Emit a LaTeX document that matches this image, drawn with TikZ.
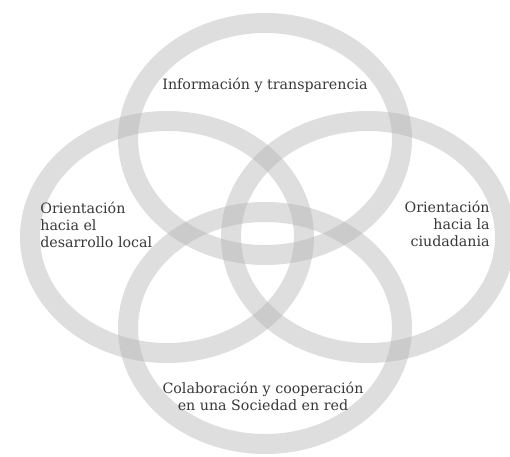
\documentclass[tikz,border=0pt]{standalone}
\usepackage{fontspec}
\setmainfont{DejaVu Serif}
\usepackage{xcolor}
\definecolor{ringgray}{gray}{0.70}
\definecolor{textgray}{gray}{0.22}

\begin{document}
\begin{tikzpicture}[
  x=0.02cm, y=-0.02cm,
  ring/.style={draw=ringgray, draw opacity=0.42, line width=0.4cm},
  label/.style={text=textgray, font=\fontsize{8.1}{9.7}\selectfont, inner sep=0pt}
]
  \useasboundingbox (0,0) rectangle (510,456);
  \clip (0,0) rectangle (510,456);
  \fill[white] (0,0) rectangle (510,456);
  % ring centres
  \coordinate (info) at (265,139);
  \coordinate (local) at (167,237);
  \coordinate (ciud) at (368,237);
  \coordinate (colab) at (265,328);
  \draw[ring] (info) ellipse [x radius=137, y radius=116];
  \draw[ring] (local) ellipse [x radius=137, y radius=116];
  \draw[ring] (ciud) ellipse [x radius=137, y radius=116];
  \draw[ring] (colab) ellipse [x radius=137, y radius=116];
  % texts
  \node[label] (infotxt) at (265,85) {Información y transparencia};
  \node[label, align=left, anchor=west] (localtxt) at (40,225) {Orientación\\hacia el\\desarrollo local};
  \node[label, align=right, anchor=east] (ciudtxt) at (490,224) {Orientación\\hacia la\\ciudadania};
  \node[label, align=center] (colabtxt) at (263,396) {Colaboración y cooperación\\en una Sociedad en red};
\end{tikzpicture}
\end{document}
